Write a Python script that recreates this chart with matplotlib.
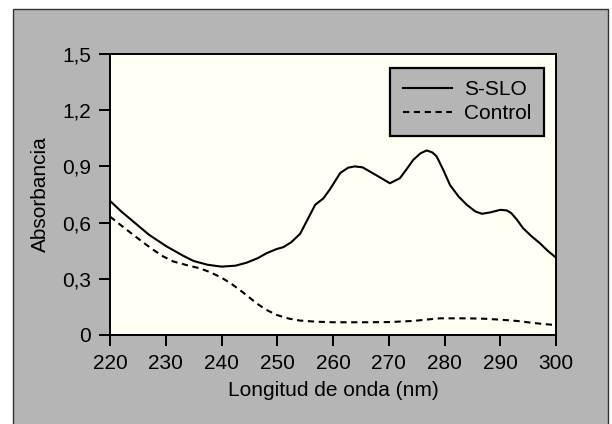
import matplotlib
matplotlib.use("Agg")
import matplotlib.pyplot as plt
from matplotlib.patches import Rectangle

plt.rcParams['font.family'] = ['Liberation Sans', 'DejaVu Sans']

# S-SLO spectrum
wl_sslo = [220, 222, 224.2, 227, 230.2, 233, 235, 237.5, 240, 242.5, 244.5, 246.5,
           248.1, 250, 251.1, 252.5, 254.1, 255.5, 256.8, 258.3, 259.5, 261.3, 262.7,
           263.9, 265.3, 266.6, 268.5, 270.2, 272, 273.2, 274.4, 275.7, 276.8, 277.8,
           278.6, 279.8, 281, 282.5, 284, 285.5, 286.7, 288.3, 290, 291.2, 292, 293,
           294.1, 295.5, 297.1, 298.5, 300]
abs_sslo = [0.716, 0.66, 0.605, 0.535, 0.472, 0.425, 0.395, 0.375, 0.365, 0.37, 0.386, 0.41,
            0.437, 0.46, 0.469, 0.495, 0.54, 0.62, 0.695, 0.73, 0.78, 0.865, 0.893,
            0.9, 0.895, 0.873, 0.84, 0.81, 0.837, 0.885, 0.935, 0.97, 0.985, 0.975,
            0.953, 0.88, 0.80, 0.74, 0.695, 0.66, 0.647, 0.655, 0.668, 0.665, 0.65, 0.615,
            0.57, 0.53, 0.49, 0.45, 0.413]

# control spectrum
wl_ctrl = [220, 222, 224.2, 226, 227.8, 229.5, 231.4, 233.5, 236.1, 238, 240, 241.7, 243.3,
           244.8, 246.3, 248, 249.9, 252, 254.1, 257, 260, 266, 270, 274.4, 277, 279.2,
           284, 287, 290, 293, 296, 298, 300]
abs_ctrl = [0.632, 0.585, 0.534, 0.493, 0.454, 0.42, 0.392, 0.375, 0.356, 0.335, 0.306,
            0.275, 0.24, 0.205, 0.169, 0.135, 0.107, 0.088, 0.077, 0.071, 0.068, 0.068,
            0.069, 0.075, 0.083, 0.089, 0.089, 0.087, 0.082, 0.075, 0.064, 0.058, 0.053]

x_ticks = [220, 230, 240, 250, 260, 270, 280, 290, 300]
y_ticks = [0, 0.3, 0.6, 0.9, 1.2, 1.5]
y_labels = ['0', '0,3', '0,6', '0,9', '1,2', '1,5']

fig = plt.figure(figsize=(6.12, 4.24), dpi=100)
fig.patch.set_facecolor('white')

# grey panel behind everything
bg = fig.add_axes([0, 0, 1, 1], zorder=-10)
bg.set_axis_off()
bg.set_xlim(0, 612)
bg.set_ylim(424, 0)
bg.add_patch(Rectangle((12.5, 9), 595, 430, facecolor='#b5b5b5',
                       edgecolor='#333333', linewidth=1.0))

ax = fig.add_axes([110 / 612, 89 / 424, 446 / 612, 281 / 424])
ax.set_facecolor('#fffff4')

ax.plot(wl_sslo, abs_sslo, color='black', lw=1.5, label='S-SLO')
ax.plot(wl_ctrl, abs_ctrl, color='black', lw=1.5, dashes=(3, 2.2), label='Control')

ax.set_xlim(220, 300)
ax.set_ylim(0, 1.5)
ax.set_xticks(x_ticks)
ax.set_yticks(y_ticks)
ax.set_yticklabels(y_labels)
ax.tick_params(direction='out', length=8, width=1.4, labelsize=15, pad=5.5,
               top=False, right=False)
for s in ax.spines.values():
    s.set_linewidth(1.4)

ax.set_xlabel('Longitud de onda (nm)', fontsize=15, labelpad=6)
ax.set_ylabel('Absorbancia', fontsize=15, labelpad=9)

leg = ax.legend(loc='upper right', bbox_to_anchor=(0.973, 0.951), borderaxespad=0,
                fontsize=15, fancybox=False, framealpha=1, facecolor='#b5b5b5',
                edgecolor='black', handlelength=2.35, handletextpad=0.6,
                borderpad=0.6, labelspacing=0.25)
leg.get_frame().set_linewidth(1.6)

fig.savefig('out.png', dpi=100)
